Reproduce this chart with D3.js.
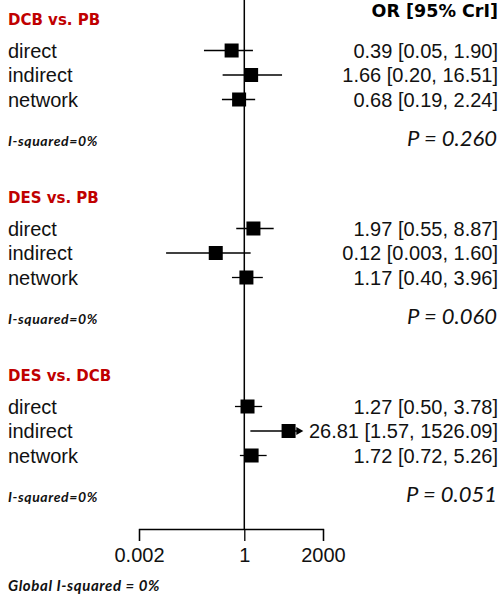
<!DOCTYPE html>
<html>
<head>
<meta charset="utf-8">
<script src="https://cdn.jsdelivr.net/npm/d3@7"></script>
<style>
  body { margin: 0; background: #fff; }
</style>
</head>
<body>
<svg id="forest"></svg>
<script>
// data
const comparisons = ["DCB vs. PB", "DES vs. PB", "DES vs. DCB"];
const evidence = ["direct", "indirect", "network"];
const orMean = [[0.39, 1.66, 0.68], [1.97, 0.12, 1.17], [1.27, 26.81, 1.72]];
const orLow = [[0.05, 0.20, 0.19], [0.55, 0.003, 0.40], [0.50, 1.57, 0.72]];
const orHigh = [[1.90, 16.51, 2.24], [8.87, 1.60, 3.96], [3.78, 1526.09, 5.26]];
const iSquared = ["0%", "0%", "0%"];
const pValues = ["0.260", "0.060", "0.051"];
const axisTicks = [0.002, 1, 2000];
const globalISquared = "0%";

const width = 501, height = 598;
const clipHigh = 80;   // CIs past this get an arrow

const fmt = v => v < 0.01 ? String(v) : v.toFixed(2);

// flatten rows
let rows = [];
comparisons.forEach((c, g) => {
    evidence.forEach((e, i) => {
        rows.push({g: g, type: e, mean: orMean[g][i], lo: orLow[g][i], hi: orHigh[g][i]});
    });
});

const x = d3.scaleLog()
    .domain([0.001, 1000])
    .range([151.3, 337.3]);

// the printed axis is spaced differently than the estimates
const xAxisScale = d3.scaleLog()
    .domain(axisTicks)
    .range([139, 244.3, 323]);

const groupY = d3.scaleLinear().domain([0, 1]).range([25, 203]);   // header baseline
const rowY = d3.scalePoint().domain(evidence).range([25.5, 74.5]);   // offset below header
const yRow = d => groupY(d.g) + rowY(d.type);
const axisY = 529;

const svg = d3.select("#forest")
    .attr("width", width)
    .attr("height", height)
    .attr("font-family", "'Liberation Sans', Arial, sans-serif");

// line of no effect
svg.append("line")
    .attr("x1", x(1)).attr("x2", x(1))
    .attr("y1", 0).attr("y2", axisY)
    .attr("stroke", "black")
    .attr("stroke-width", 1.5);

// column header
svg.append("text")
    .attr("x", 498).attr("y", 17)
    .attr("text-anchor", "end")
    .attr("font-family", "'DejaVu Sans', sans-serif")
    .attr("font-weight", "bold")
    .attr("font-size", 17.5)
    .text("OR [95% CrI]");

const grp = svg.selectAll("g.comp")
    .data(comparisons)
    .join("g")
      .attr("class", "comp");

grp.append("text")
    .attr("x", 8)
    .attr("y", (d, i) => groupY(i))
    .attr("font-family", "'DejaVu Sans', sans-serif")
    .attr("font-weight", "bold")
    .attr("font-size", 15)
    .attr("fill", "#c00000")
    .text(d => d);

grp.append("text")
    .attr("x", 8)
    .attr("y", (d, i) => groupY(i) + 121)
    .attr("font-family", "Lato, sans-serif")
    .attr("font-weight", "bold")
    .attr("font-style", "italic")
    .attr("font-size", 14)
    .attr("letter-spacing", 0.6)
    .attr("fill", "#111")
    .text((d, i) => "I-squared=" + iSquared[i]);

grp.append("text")
    .attr("x", 497)
    .attr("y", (d, i) => groupY(i) + 121)
    .attr("text-anchor", "end")
    .attr("font-family", "Lato, sans-serif")
    .attr("font-style", "italic")
    .attr("font-size", 22)
    .attr("fill", "#111")
    .text((d, i) => "P = " + pValues[i]);

const row = svg.selectAll("g.row")
    .data(rows)
    .join("g")
      .attr("class", "row")
      .attr("transform", d => `translate(0, ${yRow(d)})`);

row.append("text")
    .attr("x", 8).attr("y", 7)
    .attr("font-size", 20)
    .attr("fill", "#111")
    .text(d => d.type);

row.append("text")
    .attr("x", 498).attr("y", 7)
    .attr("text-anchor", "end")
    .attr("font-size", 20)
    .attr("fill", "#111")
    .text(d => `${fmt(d.mean)} [${fmt(d.lo)}, ${fmt(d.hi)}]`);

row.append("line")
    .attr("x1", d => x(d.lo))
    .attr("x2", d => d.hi > clipHigh ? x(clipHigh) - 6 : x(d.hi))
    .attr("stroke", "black")
    .attr("stroke-width", 1.3);

row.filter(d => d.hi > clipHigh)
    .append("path")
    .attr("d", d => `M${x(clipHigh)},0 L${x(clipHigh) - 7},-4 L${x(clipHigh) - 7},4 Z`)
    .attr("fill", "black");

row.append("rect")
    .attr("x", d => x(d.mean) - 7)
    .attr("y", -7)
    .attr("width", 14)
    .attr("height", 14)
    .attr("fill", "black");

// x axis
const xAxis = d3.axisBottom(xAxisScale)
    .tickValues(axisTicks)
    .tickFormat(d => String(d))
    .tickSize(12)
    .tickPadding(7);

const ax = svg.append("g")
    .attr("transform", `translate(0, ${axisY})`)
    .call(xAxis);
ax.selectAll("path, line").attr("stroke", "black").attr("stroke-width", 1.3);
ax.selectAll("text")
    .attr("font-family", "'Liberation Sans', Arial, sans-serif")
    .attr("font-size", 20)
    .attr("fill", "#111");

svg.append("text")
    .attr("x", 8).attr("y", 591)
    .attr("font-family", "Lato, sans-serif")
    .attr("font-weight", "bold")
    .attr("font-style", "italic")
    .attr("font-size", 15)
    .attr("letter-spacing", 0.6)
    .attr("fill", "#111")
    .text("Global I-squared = " + globalISquared);
</script>
</body>
</html>
